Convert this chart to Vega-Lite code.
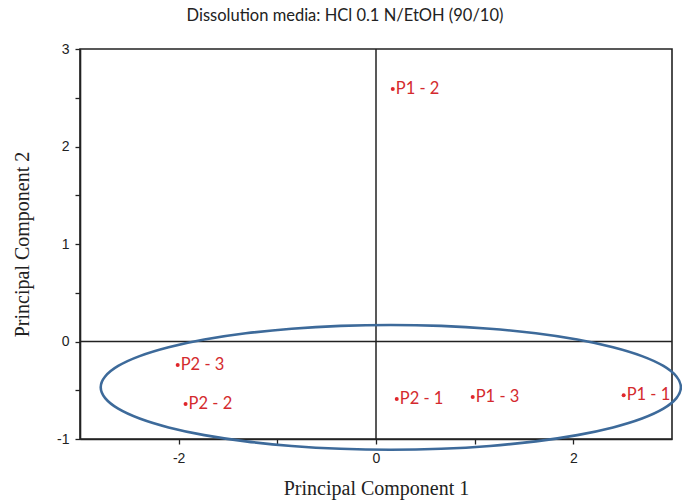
{
  "$schema": "https://vega.github.io/schema/vega-lite/v6.json",
  "width": 592,
  "height": 390,
  "autosize": {"type": "none"},
  "padding": {"left": 80, "top": 49, "right": 10, "bottom": 63},
  "background": "white",
  "title": {"text": "Dissolution media: HCl 0.1 N/EtOH (90/10)", "anchor": "middle", "dx": -31, "offset": 18, "fontSize": 16.5, "font": "Lato", "fontWeight": "normal", "color": "#222"},
  "config": {
    "view": {"stroke": "#222", "strokeWidth": 1.6},
    "axis": {"grid": false, "domainColor": "#222", "domainWidth": 1.6, "tickColor": "#222", "tickWidth": 1.3, "labelFont": "Liberation Sans", "labelFontSize": 14, "labelColor": "#222", "titleFont": "Liberation Serif", "titleFontSize": 20, "titleFontWeight": "normal", "titleColor": "#222", "tickSize": 5}
  },
  "datasets": {
    "pts": [
      {"pc1": 0.17, "pc2": 2.59, "label": "P1 - 2"},
      {"pc1": -2.01, "pc2": -0.24, "label": "P2 - 3"},
      {"pc1": -1.93, "pc2": -0.64, "label": "P2 - 2"},
      {"pc1": 0.21, "pc2": -0.59, "label": "P2 - 1"},
      {"pc1": 0.98, "pc2": -0.57, "label": "P1 - 3"},
      {"pc1": 2.51, "pc2": -0.55, "label": "P1 - 1"}
    ],
    "ellipse": [
      {"i": 0, "ex": 3.09, "ey": -0.47},
      {"i": 1, "ex": 3.045, "ey": -0.359},
      {"i": 2, "ex": 2.913, "ey": -0.251},
      {"i": 3, "ex": 2.696, "ey": -0.15},
      {"i": 4, "ex": 2.402, "ey": -0.059},
      {"i": 5, "ex": 2.04, "ey": 0.02},
      {"i": 6, "ex": 1.62, "ey": 0.084},
      {"i": 7, "ex": 1.155, "ey": 0.131},
      {"i": 8, "ex": 0.66, "ey": 0.16},
      {"i": 9, "ex": 0.15, "ey": 0.17},
      {"i": 10, "ex": -0.36, "ey": 0.16},
      {"i": 11, "ex": -0.855, "ey": 0.131},
      {"i": 12, "ex": -1.32, "ey": 0.084},
      {"i": 13, "ex": -1.74, "ey": 0.02},
      {"i": 14, "ex": -2.102, "ey": -0.059},
      {"i": 15, "ex": -2.396, "ey": -0.15},
      {"i": 16, "ex": -2.613, "ey": -0.251},
      {"i": 17, "ex": -2.745, "ey": -0.359},
      {"i": 18, "ex": -2.79, "ey": -0.47},
      {"i": 19, "ex": -2.745, "ey": -0.581},
      {"i": 20, "ex": -2.613, "ey": -0.689},
      {"i": 21, "ex": -2.396, "ey": -0.79},
      {"i": 22, "ex": -2.102, "ey": -0.881},
      {"i": 23, "ex": -1.74, "ey": -0.96},
      {"i": 24, "ex": -1.32, "ey": -1.024},
      {"i": 25, "ex": -0.855, "ey": -1.071},
      {"i": 26, "ex": -0.36, "ey": -1.1},
      {"i": 27, "ex": 0.15, "ey": -1.11},
      {"i": 28, "ex": 0.66, "ey": -1.1},
      {"i": 29, "ex": 1.155, "ey": -1.071},
      {"i": 30, "ex": 1.62, "ey": -1.024},
      {"i": 31, "ex": 2.04, "ey": -0.96},
      {"i": 32, "ex": 2.402, "ey": -0.881},
      {"i": 33, "ex": 2.696, "ey": -0.79},
      {"i": 34, "ex": 2.913, "ey": -0.689},
      {"i": 35, "ex": 3.045, "ey": -0.581}
    ],
    "zero": [{"z": 0}]
  },
  "layer": [
    {
      "data": {"name": "zero"},
      "mark": {"type": "rule", "color": "#222", "strokeWidth": 1.5},
      "encoding": {"x": {"field": "z", "type": "quantitative", "scale": {"domain": [-3, 3], "nice": false, "zero": false}}}
    },
    {
      "data": {"name": "zero"},
      "mark": {"type": "rule", "color": "#222", "strokeWidth": 1.5},
      "encoding": {"y": {"field": "z", "type": "quantitative", "scale": {"domain": [-1, 3], "nice": false, "zero": false}}}
    },
    {
      "data": {"name": "ellipse"},
      "mark": {"type": "line", "interpolate": "cardinal-closed", "color": "#3d6a9a", "strokeWidth": 2.6},
      "encoding": {
        "x": {"field": "ex", "type": "quantitative"},
        "y": {"field": "ey", "type": "quantitative"},
        "order": {"field": "i", "type": "quantitative"}
      }
    },
    {
      "data": {"name": "pts"},
      "mark": {"type": "point", "filled": true, "size": 16, "color": "#e0262b", "opacity": 1},
      "encoding": {
        "x": {"field": "pc1", "type": "quantitative", "scale": {"domain": [-3, 3], "nice": false, "zero": false},
          "axis": {"title": "Principal Component 1", "values": [-2, -1, 0, 1, 2], "labelExpr": "datum.value % 2 == 0 ? '' + datum.value : ''", "labelPadding": 7, "titlePadding": 13}},
        "y": {"field": "pc2", "type": "quantitative", "scale": {"domain": [-1, 3], "nice": false, "zero": false},
          "axis": {"title": "Principal Component 2", "values": [-1, -0.5, 0, 0.5, 1, 1.5, 2, 2.5, 3], "labelExpr": "datum.value % 1 == 0 ? '' + datum.value : ''", "labelPadding": 6, "titlePadding": 24}}
      }
    },
    {
      "data": {"name": "pts"},
      "mark": {"type": "text", "align": "left", "baseline": "middle", "dx": 3, "font": "Lato", "fontSize": 16.5, "color": "#d42a2e"},
      "encoding": {
        "x": {"field": "pc1", "type": "quantitative"},
        "y": {"field": "pc2", "type": "quantitative"},
        "text": {"field": "label"}
      }
    }
  ]
}
